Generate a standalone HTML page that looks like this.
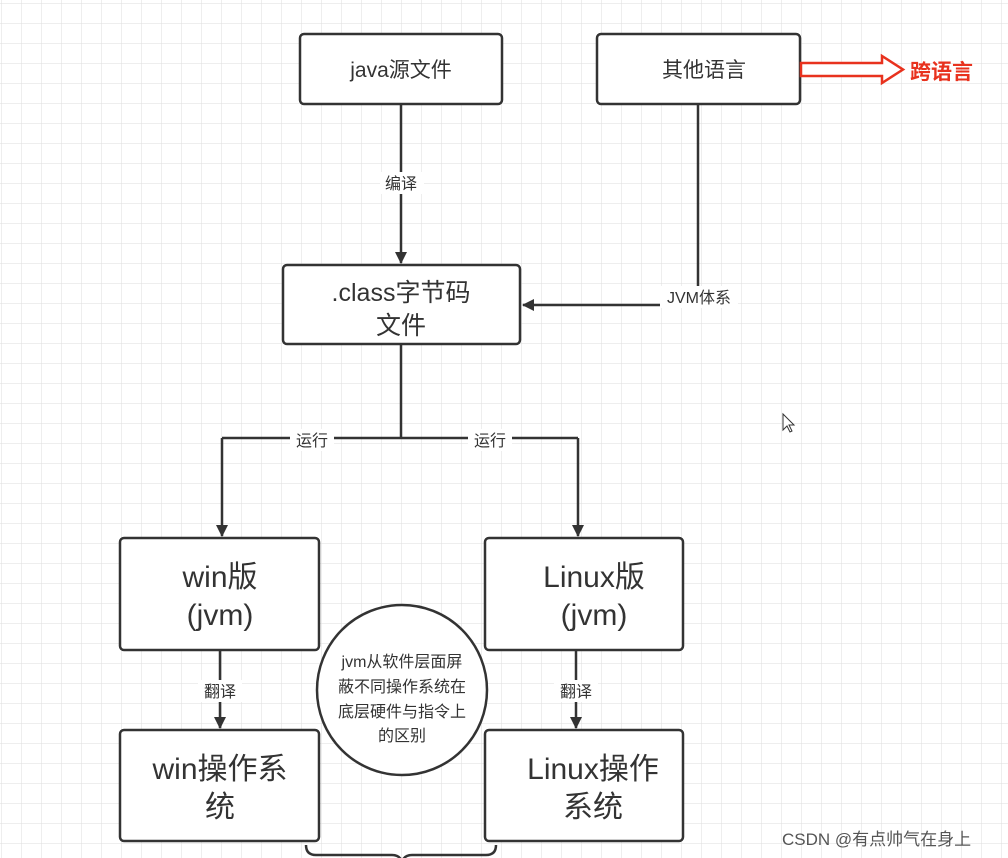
<!DOCTYPE html>
<html><head><meta charset="utf-8"><style>
body{margin:0;background:#fff;}
svg{display:block;font-family:"Liberation Sans","Noto Sans CJK SC",sans-serif;}
</style></head><body>
<svg width="1008" height="858" viewBox="0 0 1008 858">
<defs>
<pattern id="g" width="20" height="20" patternUnits="userSpaceOnUse" x="2" y="4">
<path d="M20 0V20M0 20H20" stroke="#dedede" stroke-width="1" fill="none"/>
</pattern>
<marker id="a" markerWidth="12" markerHeight="12" refX="11" refY="6" orient="auto" markerUnits="userSpaceOnUse"><path d="M0,0 L12,6 L0,12 Z" fill="#333"/></marker>
</defs>
<rect width="1008" height="858" fill="url(#g)"/>
<g stroke="#333" stroke-width="2.5" fill="#fff">
<rect x="300" y="34" width="202" height="70" rx="4"/>
<rect x="597" y="34" width="203" height="70" rx="4"/>
<rect x="283" y="265" width="237" height="79" rx="4"/>
<rect x="120" y="538" width="199" height="112" rx="4"/>
<rect x="485" y="538" width="198" height="112" rx="4"/>
<rect x="120" y="730" width="199" height="111" rx="4"/>
<rect x="485" y="730" width="198" height="111" rx="4"/>
<circle cx="402" cy="690" r="85"/>
</g>
<g stroke="#333" stroke-width="2.5" fill="none">
<path d="M401 104V263" marker-end="url(#a)"/>
<path d="M698 104V305H523" marker-end="url(#a)"/>
<path d="M401 344V438M222 438H578"/>
<path d="M222 438V536" marker-end="url(#a)"/>
<path d="M578 438V536" marker-end="url(#a)"/>
<path d="M220 650V728" marker-end="url(#a)"/>
<path d="M576 650V728" marker-end="url(#a)"/>
<path d="M306 845Q306 855 316 855H392Q400 855 402 862Q404 855 412 855H486Q496 855 496 845"/>
</g>
<path d="M801 63H882V56L903 69.5L882 83V76H801Z" fill="#fff" stroke="#e8321e" stroke-width="2.5"/>
<text x="910" y="79" font-size="21" font-weight="bold" fill="#e8321e">跨语言</text>
<g fill="#333" text-anchor="middle">
<rect x="380" y="172" width="44" height="22" fill="#fff"/>
<rect x="660" y="286" width="78" height="22" fill="#fff"/>
<rect x="290" y="429" width="44" height="22" fill="#fff"/>
<rect x="468" y="429" width="44" height="22" fill="#fff"/>
<rect x="198" y="680" width="44" height="22" fill="#fff"/>
<rect x="554" y="680" width="44" height="22" fill="#fff"/>
<text x="401" y="189" font-size="16">编译</text>
<text x="699" y="303" font-size="16">JVM体系</text>
<text x="312" y="446" font-size="16">运行</text>
<text x="490" y="446" font-size="16">运行</text>
<text x="220" y="697" font-size="16">翻译</text>
<text x="576" y="697" font-size="16">翻译</text>
<text x="401" y="77" font-size="21">java源文件</text>
<text x="704" y="77" font-size="21">其他语言</text>
<text x="401" y="301" font-size="25">.class字节码</text>
<text x="401" y="334" font-size="25">文件</text>
<text x="220" y="587" font-size="30">win版</text>
<text x="220" y="625" font-size="30">(jvm)</text>
<text x="594" y="587" font-size="30">Linux版</text>
<text x="594" y="625" font-size="30">(jvm)</text>
<text x="220" y="779" font-size="30">win操作系</text>
<text x="220" y="817" font-size="30">统</text>
<text x="593" y="779" font-size="30">Linux操作</text>
<text x="593" y="817" font-size="30">系统</text>
<text x="402" y="667" font-size="16">jvm从软件层面屏</text>
<text x="402" y="692" font-size="16">蔽不同操作系统在</text>
<text x="402" y="717" font-size="16">底层硬件与指令上</text>
<text x="402" y="741" font-size="16">的区别</text>
</g>
<text x="782" y="845" font-size="17" fill="#555">CSDN @有点帅气在身上</text>
<path d="M783 414V430L787 426L790 432L792 431L789 425H794Z" fill="#fff" stroke="#333" stroke-width="1"/>
</svg>
</body></html>
